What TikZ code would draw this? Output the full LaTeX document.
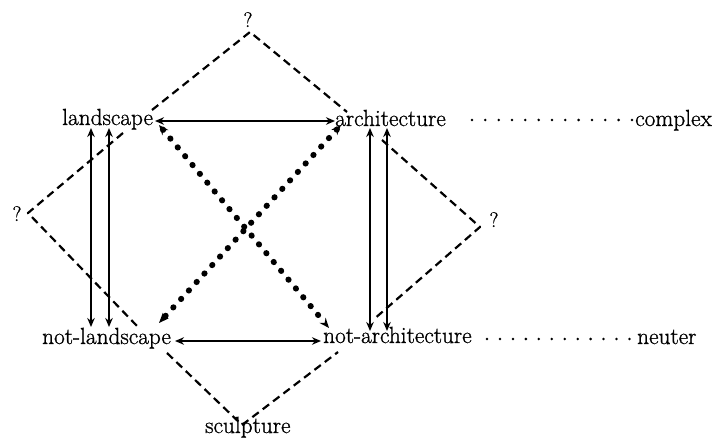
\documentclass[tikz,border=0pt]{standalone}
\usepackage{fontspec}
\setmainfont{Latin Modern Roman}[FakeBold=1.0]
\usetikzlibrary{arrows.meta}
\tikzset{
  txt/.style={inner sep=0pt, anchor=base west, font=\fontsize{23.3}{26}\selectfont},
  qm/.style={inner sep=0pt, anchor=base, font=\fontsize{21}{24}\selectfont},
  arr/.style={line width=2pt, {Stealth[length=9pt,width=7.5pt]}-{Stealth[length=9pt,width=7.5pt]}},
  dashline/.style={line width=2.2pt, dash pattern=on 8pt off 5pt, line join=round},
  bigdots/.style={line width=6pt, line cap=round, dash pattern=on 0.3pt off 11.2pt,
     {Stealth[length=10pt,width=8pt]}-{Stealth[length=10pt,width=8pt]}},
  leader/.style={line width=2.8pt, line cap=round, dash pattern=on 0pt off 13.33pt}
}
\begin{document}
\begin{tikzpicture}[x=1pt,y=-1pt]
\useasboundingbox (0,0) rectangle (716,446);
% text nodes
\node[txt] (land) at (62,125) {landscape};
\node[txt] (arch) at (335,126) {architecture};
\node[txt] (complex) at (635,126) {complex};
\node[txt] (notland) at (42,344) {not-landscape};
\node[txt] (notarch) at (323,343) {not-architecture};
\node[txt] (neuter) at (637,344) {neuter};
\node[txt] (sculpt) at (205,433) {sculpture};
\node[qm] (qtop) at (248,27) {?};
\node[qm] (qleft) at (17,221) {?};
\node[qm] (qright) at (494,227) {?};
% connector ends
\coordinate (tL) at (155,121); \coordinate (tR) at (335,121);
\coordinate (bL) at (175,341); \coordinate (bR) at (321,341);
\coordinate (lv1t) at (91,128); \coordinate (lv1b) at (91,327);
\coordinate (lv2t) at (109,128); \coordinate (lv2b) at (109,327);
\coordinate (rv1t) at (370,128); \coordinate (rv1b) at (370,331);
\coordinate (rv2t) at (387,128); \coordinate (rv2b) at (387,331);
\coordinate (d1a) at (159,125); \coordinate (d1b) at (329,328);
\coordinate (d2a) at (341,125); \coordinate (d2b) at (159,323);
% dashed corners
\coordinate (at) at (250,32); \coordinate (al) at (28,213);
\coordinate (ar) at (480,227); \coordinate (ab) at (242,425);
\coordinate (t1) at (152,110); \coordinate (t2) at (347,112);
\coordinate (l1) at (123,133); \coordinate (l2) at (138,327);
\coordinate (r1) at (382,140); \coordinate (r2) at (373,320);
\coordinate (s1) at (167,353); \coordinate (s2) at (338,352);
% leader dots
\coordinate (ld1) at (472,120); \coordinate (ld1e) at (632.5,120);
\coordinate (ld2) at (487,339); \coordinate (ld2e) at (629.5,339);
% drawing
\draw[dashline] (t1) -- (at) -- (t2);
\draw[dashline] (l1) -- (al) -- (l2);
\draw[dashline] (r1) -- (ar) -- (r2);
\draw[dashline] (s1) -- (ab) -- (s2);
\draw[arr] (tL) -- (tR);
\draw[arr] (bL) -- (bR);
\draw[arr] (lv1t) -- (lv1b);
\draw[arr] (lv2t) -- (lv2b);
\draw[arr] (rv1t) -- (rv1b);
\draw[arr] (rv2t) -- (rv2b);
\draw[bigdots] (d1a) -- (d1b);
\draw[bigdots] (d2a) -- (d2b);
\draw[leader] (ld1) -- (ld1e);
\draw[leader, dash pattern=on 0pt off 12.95pt] (ld2) -- (ld2e);
\end{tikzpicture}
\end{document}
